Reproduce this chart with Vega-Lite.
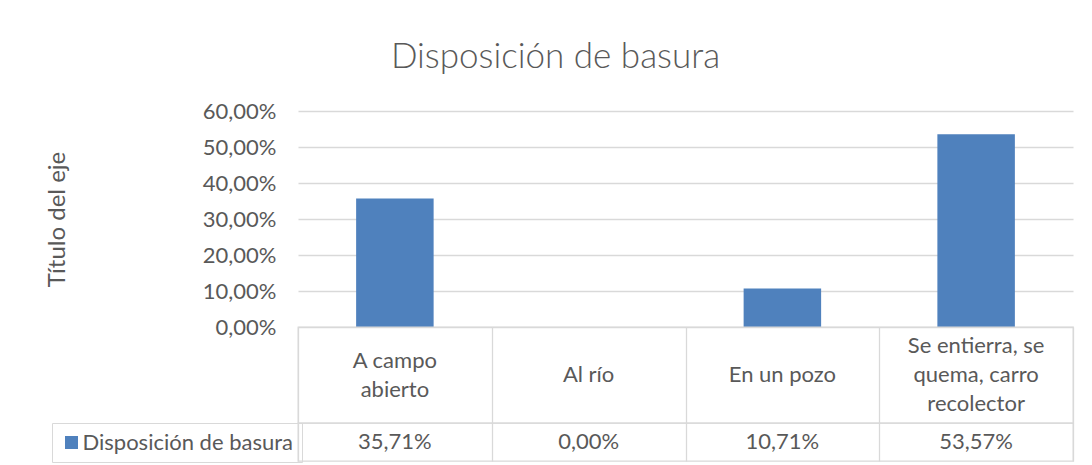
{
  "$schema": "https://vega.github.io/schema/vega-lite/v6.json",
  "autosize": {"type": "none"},
  "padding": {"left": 298, "top": 111, "right": 794, "bottom": 354},
  "background": "white",
  "bounds": "flush",
  "title": {
    "text": "Disposición de basura",
    "fontSize": 35,
    "fontWeight": 300,
    "font": "Lato",
    "color": "#595959",
    "anchor": "middle",
    "frame": "group",
    "dx": -130,
    "offset": 25
  },
  "data": {
    "values": [
      {"categoria": "A campo abierto", "etiqueta": "A campo\nabierto", "valor": 0.3571, "serie": "Disposición de basura"},
      {"categoria": "Al río", "etiqueta": "Al río", "valor": 0.0, "serie": "Disposición de basura"},
      {"categoria": "En un pozo", "etiqueta": "En un pozo", "valor": 0.1071, "serie": "Disposición de basura"},
      {"categoria": "Se entierra, se quema, carro recolector", "etiqueta": "Se entierra, se\nquema, carro\nrecolector", "valor": 0.5357, "serie": "Disposición de basura"}
    ]
  },
  "spacing": 0,
  "resolve": {"scale": {"x": "independent", "y": "independent"}},
  "vconcat": [
    {
      "width": 775,
      "height": 216,
      "mark": {"type": "bar"},
      "encoding": {
        "x": {"field": "categoria", "type": "nominal", "sort": ["A campo abierto", "Al río", "En un pozo", "Se entierra, se quema, carro recolector"], "scale": {"paddingInner": 0.6, "paddingOuter": 0.3}, "axis": null},
        "y": {
          "field": "valor", "type": "quantitative",
          "scale": {"domain": [0, 0.6], "nice": false},
          "axis": {
            "values": [0, 0.1, 0.2, 0.3, 0.4, 0.5, 0.6],
            "format": ".2%",
            "title": "Título del eje",
            "titleFontSize": 24,
            "titleFontWeight": "normal",
            "titleColor": "#595959",
            "titleAngle": -90,
            "titleX": -241,
            "titleY": 108,
            "titleAlign": "center",
            "titleBaseline": "middle",
            "labelFontSize": 22,
            "labelColor": "#595959",
            "labelPadding": 22,
            "ticks": false,
            "domain": false,
            "grid": true,
            "gridColor": "#D9D9D9",
            "gridWidth": 1.3
          }
        },
        "color": {
          "field": "serie", "type": "nominal",
          "scale": {"range": ["#4F81BD"]},
          "legend": {
            "title": null,
            "orient": "none",
            "legendX": -246,
            "legendY": 312,
            "symbolType": "square",
            "symbolSize": 169,
            "symbolStrokeWidth": 0,
            "labelFontSize": 22,
            "labelColor": "#595959",
            "labelOffset": 0,
            "labelLimit": 400,
            "padding": 8.5,
            "strokeColor": "#D9D9D9"
          }
        }
      }
    },
    {
      "width": 775,
      "height": 96,
      "view": {"stroke": "#D9D9D9", "strokeWidth": 1.3},
      "encoding": {
        "x": {
          "field": "categoria", "type": "nominal",
          "sort": ["A campo abierto", "Al río", "En un pozo", "Se entierra, se quema, carro recolector"],
          "scale": {"paddingInner": 0, "paddingOuter": 0},
          "axis": {"grid": true, "tickBand": "extent", "labels": false, "ticks": false, "domain": false, "title": null, "gridColor": "#D9D9D9", "gridWidth": 1.3}
        },
        "text": {"field": "etiqueta"}
      },
      "layer": [
        {
          "transform": [{"filter": "length(split(datum.etiqueta, '\\n')) == 1"}],
          "mark": {"type": "text", "lineBreak": "\n", "fontSize": 22, "color": "#595959", "lineHeight": 29, "baseline": "middle"}
        },
        {
          "transform": [{"filter": "length(split(datum.etiqueta, '\\n')) == 2"}],
          "mark": {"type": "text", "lineBreak": "\n", "fontSize": 22, "color": "#595959", "lineHeight": 29, "baseline": "middle", "dy": -14.5}
        },
        {
          "transform": [{"filter": "length(split(datum.etiqueta, '\\n')) == 3"}],
          "mark": {"type": "text", "lineBreak": "\n", "fontSize": 22, "color": "#595959", "lineHeight": 29, "baseline": "middle", "dy": -29}
        }
      ]
    },
    {
      "width": 775,
      "height": 38,
      "view": {"stroke": "#D9D9D9", "strokeWidth": 1.3},
      "mark": {"type": "text", "fontSize": 22, "color": "#595959", "baseline": "middle"},
      "encoding": {
        "x": {
          "field": "categoria", "type": "nominal",
          "sort": ["A campo abierto", "Al río", "En un pozo", "Se entierra, se quema, carro recolector"],
          "scale": {"paddingInner": 0, "paddingOuter": 0},
          "axis": {"grid": true, "tickBand": "extent", "labels": false, "ticks": false, "domain": false, "title": null, "gridColor": "#D9D9D9", "gridWidth": 1.3}
        },
        "text": {"field": "valor", "format": ".2%"}
      }
    }
  ],
  "config": {
    "font": "Lato",
    "locale": {"number": {"decimal": ",", "thousands": ".", "grouping": [3], "currency": ["", " €"]}},
    "view": {"stroke": null}
  }
}
